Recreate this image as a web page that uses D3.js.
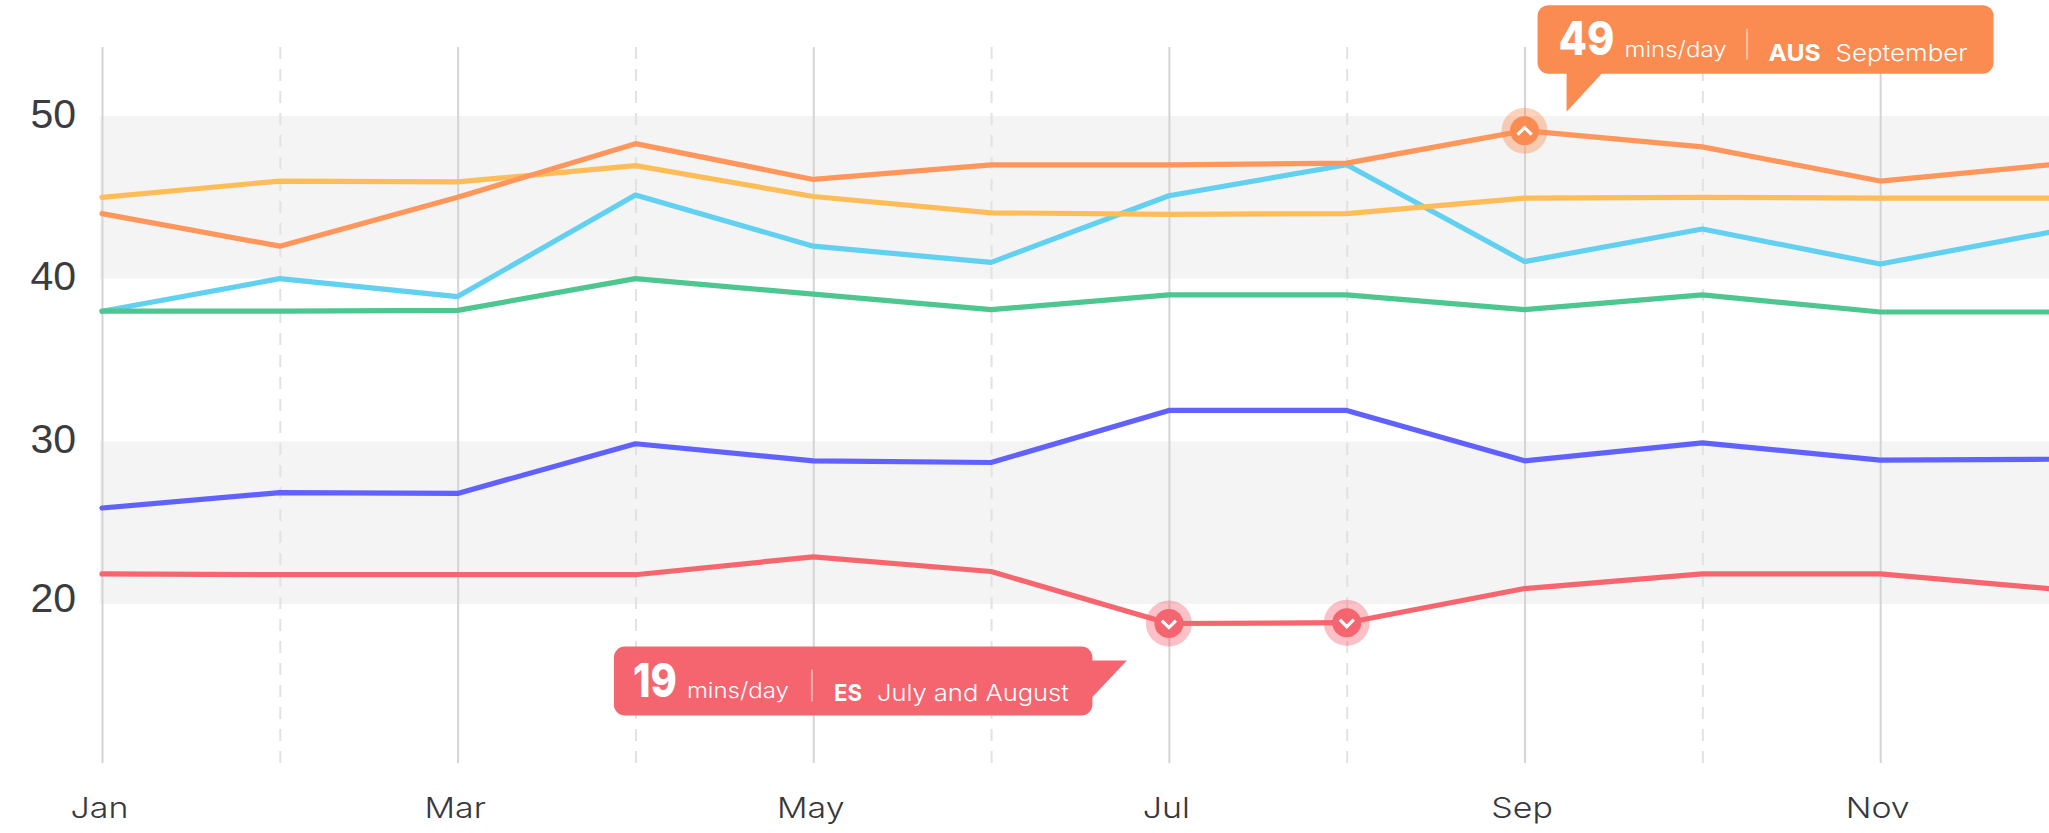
<!DOCTYPE html>
<html>
<head>
<meta charset="utf-8">
<script src="https://cdn.jsdelivr.net/npm/d3@7"></script>
<style>
  html, body { margin: 0; padding: 0; background: #fff; overflow: hidden; }
  svg { display: block; font-family: Inter, "Noto Sans", sans-serif; }
  .domain { display: none; }
</style>
</head>
<body>
<div id="chart"></div>
<script>
var months = ['Jan', 'Feb', 'Mar', 'Apr', 'May', 'Jun', 'Jul', 'Aug', 'Sep', 'Oct', 'Nov', 'Dec'];
var yTicks = [20, 30, 40, 50];
var bands = [[20, 30], [40, 50]];

var yellow = [45, 46, 45.95, 46.95, 45.05, 44.05, 43.95, 44, 44.95, 45, 44.95, 44.95];
var orange = [44, 42, 45, 48.3, 46.1, 47, 47, 47.1, 49.1, 48.1, 46, 47.05];
var cyan = [38, 40, 38.9, 45.15, 42, 41, 45.1, 47, 41.05, 43.05, 40.9, 42.95];
var green = [38, 38, 38.05, 40, 39.05, 38.1, 39, 39, 38.1, 39, 37.95, 37.95];
var purple = [25.9, 26.85, 26.8, 29.85, 28.8, 28.7, 31.9, 31.9, 28.8, 29.9, 28.85, 28.9];
var red = [21.85, 21.8, 21.8, 21.8, 22.9, 22, 18.8, 18.85, 20.95, 21.85, 21.85, 20.9];

var width = 2049, height = 833;

var svg = d3.select('#chart').append('svg')
  .attr('width', width)
  .attr('height', height);

var x = d3.scalePoint().domain(months).range([102, 2058]);
var y = d3.scaleLinear().domain([20, 50]).range([604, 116]);

var gridTop = 47, gridBottom = 763;

// grey bands
svg.selectAll('rect.band')
  .data(bands)
  .enter()
  .append('rect')
  .attr('class', 'band')
  .attr('x', x('Jan') - 2)
  .attr('width', width)
  .attr('y', function(d) { return y(d[1]); })
  .attr('height', function(d) { return y(d[0]) - y(d[1]); })
  .attr('fill', '#f4f4f4');

// month axis, every other month has a label and a solid line
var xAxis = d3.axisBottom(x)
  .tickSize(gridBottom - gridTop)
  .tickFormat(function(d, i) { return i % 2 === 0 ? d : ''; });

var xG = svg.append('g')
  .attr('transform', 'translate(0,' + gridTop + ')')
  .call(xAxis);

xG.selectAll('.tick line')
  .attr('stroke', function(d, i) { return i % 2 === 0 ? '#d4d4d4' : '#e2e2e2'; })
  .attr('stroke-width', 2)
  .attr('stroke-dasharray', function(d, i) { return i % 2 === 0 ? null : '12 10'; });

xG.selectAll('.tick text')
  .attr('dx', -3)
  .attr('dy', 0)
  .attr('y', 818 - gridTop)
  .attr('fill', '#36383c')
  .style('font-family', 'Inter, sans-serif')
  .style('font-size', '29px')
  .style('font-weight', 300)
  .attr('lengthAdjust', 'spacingAndGlyphs')
  .attr('textLength', function() { return this.getComputedTextLength() * 1.17; });

// value axis
var yAxis = d3.axisLeft(y).tickValues(yTicks).tickSize(0);

var yG = svg.append('g')
  .attr('transform', 'translate(76,0)')
  .call(yAxis);

yG.selectAll('.tick text')
  .attr('x', 0)
  .attr('dy', 0)
  .attr('y', function(d) { return d === 20 ? 7.5 : 11; })
  .attr('fill', '#3a3c40')
  .style('font-family', '"Liberation Sans", sans-serif')
  .style('font-size', '41px');

// lines
var line = d3.line()
  .x(function(d, i) { return x(months[i]); })
  .y(function(d) { return y(d); });

var seriesList = [
  { values: cyan, colour: '#62d0f0' },
  { values: yellow, colour: '#ffbd59' },
  { values: orange, colour: '#ff965c' },
  { values: green, colour: '#4dc690' },
  { values: purple, colour: '#6161ff' },
  { values: red, colour: '#f6666f' }
];

svg.selectAll('path.series')
  .data(seriesList)
  .enter()
  .append('path')
  .attr('class', 'series')
  .attr('fill', 'none')
  .attr('stroke', function(d) { return d.colour; })
  .attr('stroke-width', 5.2)
  .attr('stroke-linecap', 'round')
  .attr('stroke-linejoin', 'round')
  .attr('d', function(d) { return line(d.values); });

// markers on the highest and lowest values
function marker(month, value, colour, up) {
  var g = svg.append('g')
    .attr('transform', 'translate(' + x(month) + ',' + y(value) + ')');
  g.append('circle').attr('r', 23).attr('fill', colour).attr('opacity', 0.4);
  g.append('circle').attr('r', 14.5).attr('fill', colour);
  g.append('path')
    .attr('d', up ? 'M-7,4L0,-3L7,4' : 'M-7,-3L0,4L7,-3')
    .attr('fill', 'none')
    .attr('stroke', '#fff')
    .attr('stroke-width', 3.2);
}

marker('Sep', orange[8], '#fa8c52', true);
marker('Jul', red[6], '#f56570', false);
marker('Aug', red[7], '#f56570', false);

// callouts, placed relative to the month they point at
function callout(o) {
  var g = svg.append('g')
    .attr('transform', 'translate(' + x(o.month) + ',' + y(o.value) + ')');
  g.append('rect')
    .attr('x', o.box[0]).attr('y', o.box[1])
    .attr('width', o.box[2]).attr('height', o.box[3])
    .attr('rx', 11)
    .attr('fill', o.colour);
  g.append('path').attr('d', o.tail).attr('fill', o.colour);
  g.append('line')
    .attr('x1', o.sep[0]).attr('x2', o.sep[0])
    .attr('y1', o.sep[1]).attr('y2', o.sep[2])
    .attr('stroke', '#fff')
    .attr('stroke-opacity', 0.45)
    .attr('stroke-width', 2);
  o.texts.forEach(function(t) {
    g.append('text')
      .attr('x', t[1]).attr('y', t[2])
      .attr('fill', '#fff')
      .attr('font-weight', t[4])
      .attr('font-size', t[3])
      .attr('textLength', t[5])
      .attr('lengthAdjust', 'spacingAndGlyphs')
      .text(t[0]);
  });
}

callout({
  month: 'Sep', value: orange[8], colour: '#fa8c52',
  box: [13, -125.5, 456, 68.5],
  tail: 'M42,-58V-19L78,-58Z',
  sep: [222.5, -102, -71],
  texts: [
    ['49', 34, -76, 47, 800, 56],
    ['mins/day', 100, -74, 22, 300, 102],
    ['AUS', 244, -70, 23, 700, 52],
    ['September', 311, -70, 23, 300, 132]
  ]
});

callout({
  month: 'Jul', value: red[6], colour: '#f56570',
  box: [-555, 23, 478.5, 69],
  tail: 'M-77,37H-42L-77,74Z',
  sep: [-357, 46, 78],
  texts: [
    ['19', -536, 73, 47, 800, 44],
    ['mins/day', -482, 74, 22, 300, 102],
    ['ES', -335, 77, 23, 700, 28],
    ['July and August', -292, 77, 23, 300, 192]
  ]
});
</script>
</body>
</html>
